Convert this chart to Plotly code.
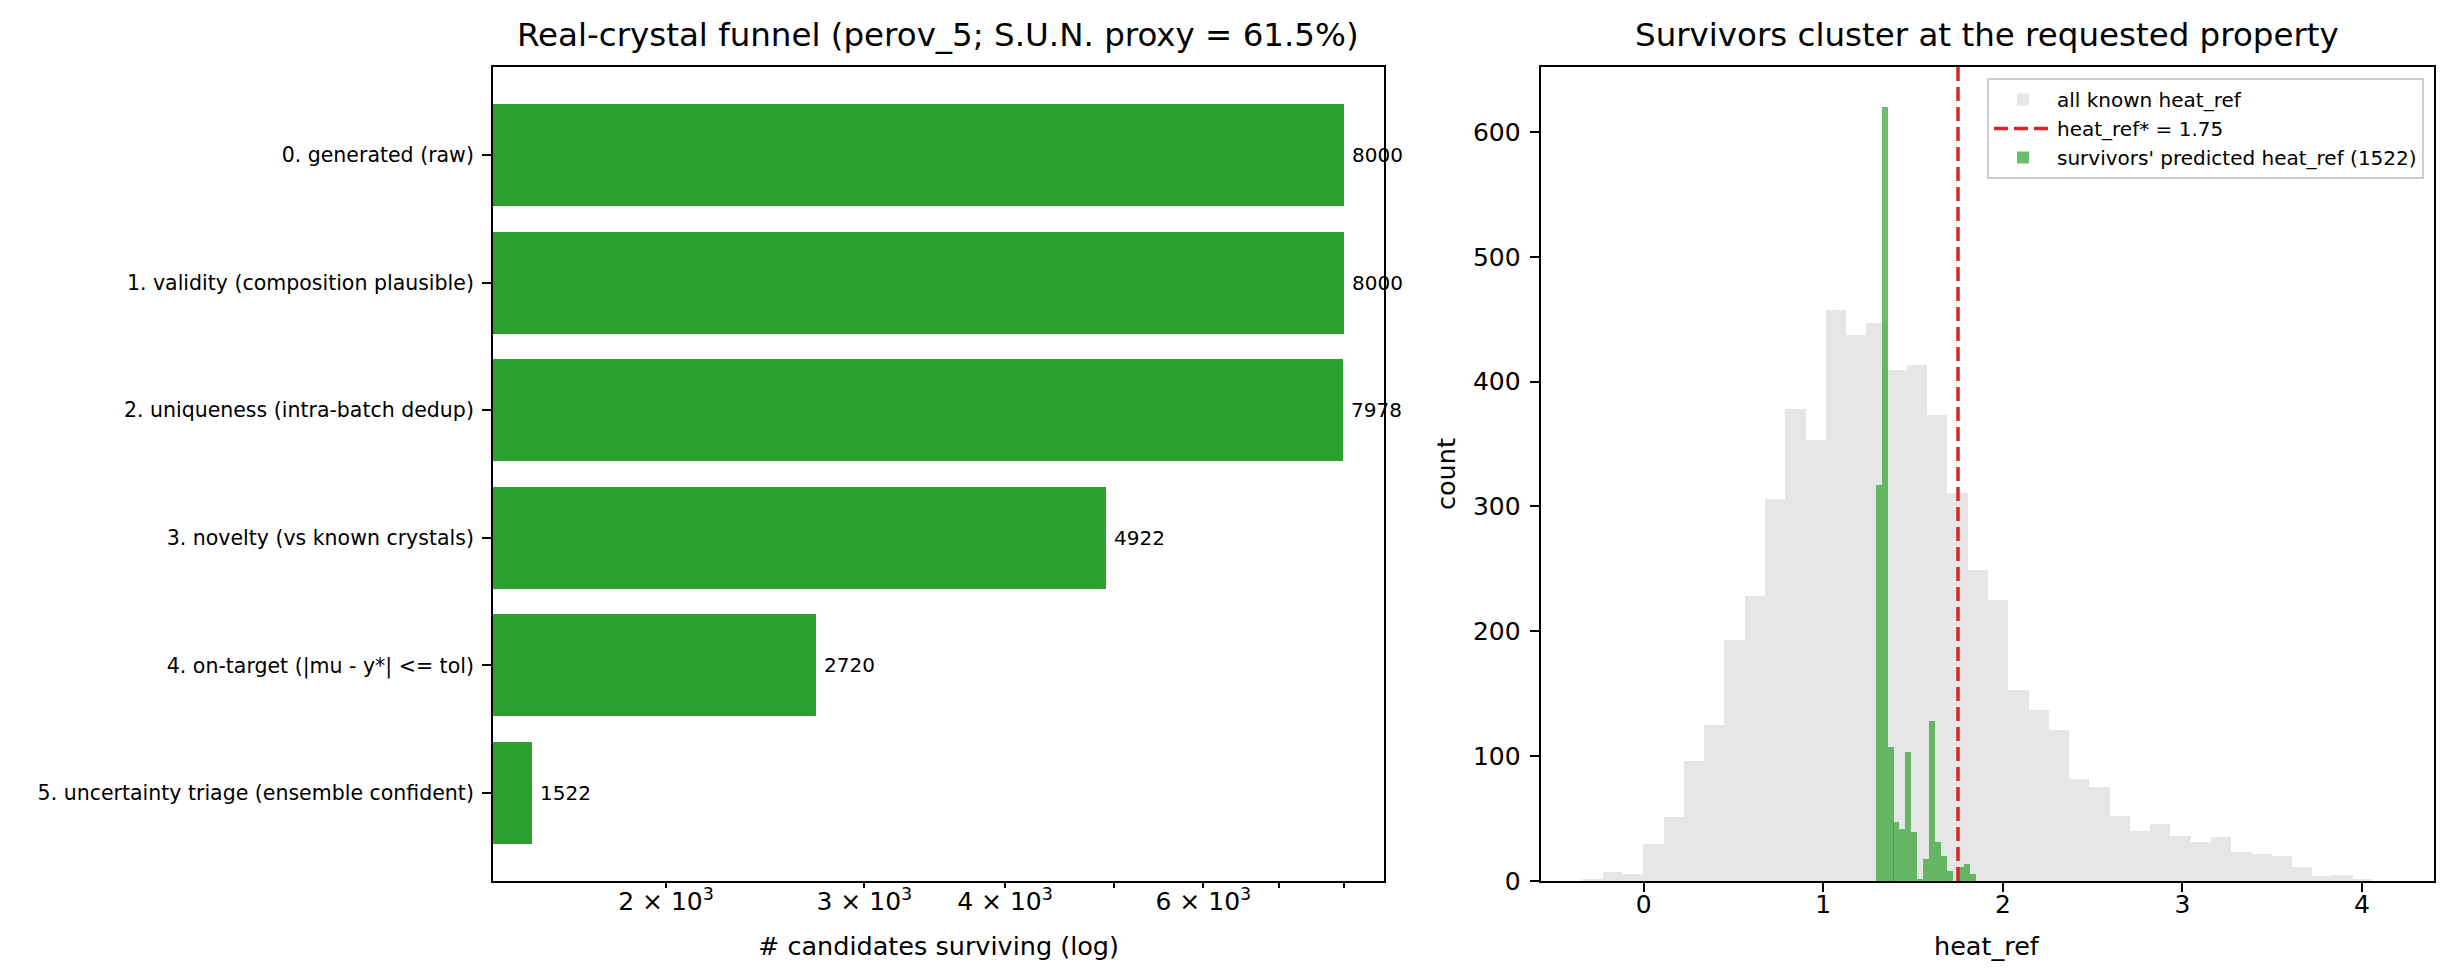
import math
import plotly.graph_objects as go

""" FUNNEL DATA
Stages of the candidate filter and how many candidates survive each one.
"""
stages = [
    "0. generated (raw)",
    "1. validity (composition plausible)",
    "2. uniqueness (intra-batch dedup)",
    "3. novelty (vs known crystals)",
    "4. on-target (|mu - y*| <= tol)",
    "5. uncertainty triage (ensemble confident)",
]
surviving = [8000, 8000, 7978, 4922, 2720, 1522]

funnel_tickvals = [2000, 3000, 4000, 6000]
funnel_ticktext = ["2 × 10<sup>3</sup>", "3 × 10<sup>3</sup>", "4 × 10<sup>3</sup>", "6 × 10<sup>3</sup>"]
funnel_minor = [5000, 7000, 8000]

""" HISTOGRAM DATA
Counts read per bin (left edge of each bin + common bin width).
"""
known_left = [-0.343, -0.230, -0.117, -0.004, 0.109, 0.222, 0.334, 0.447, 0.560, 0.673,
              0.786, 0.899, 1.012, 1.125, 1.238, 1.350, 1.463, 1.576, 1.689, 1.802,
              1.915, 2.028, 2.141, 2.254, 2.366, 2.479, 2.592, 2.705, 2.818, 2.931,
              3.044, 3.157, 3.270, 3.382, 3.495, 3.608, 3.721, 3.834, 3.947]
known_width = 0.1135
known_counts = [2, 7, 6, 30, 51, 96, 125, 193, 228, 306,
                378, 353, 457, 437, 447, 409, 413, 373, 311, 249,
                225, 153, 137, 121, 82, 75, 52, 40, 46, 36,
                31, 35, 23, 22, 20, 11, 4, 5, 2]

surv_left = [1.291, 1.324, 1.357, 1.389, 1.422, 1.455, 1.488, 1.521, 1.554, 1.586,
             1.619, 1.652, 1.685, 1.718, 1.750, 1.783, 1.816]
surv_width = 0.0328
surv_counts = [317, 620, 107, 47, 42, 103, 39, 2, 18, 128, 31, 20, 8, 0, 11, 14, 6]

target = 1.75
n_survivors = 1522

hist_xticks = [0, 1, 2, 3, 4]
hist_yticks = [0, 100, 200, 300, 400, 500, 600]

# figure geometry (pixels of the 2444x977 page)
W, H = 2444, 977
FONT = "DejaVu Sans"
GREEN = "#2ca02c"

left_dom = [485 / W, 1375.7 / W]
right_dom = [1532.7 / W, 2426 / W]
y_dom = [1 - 873 / H, 1 - 59 / H]
hist_ymax = 652

fig = go.Figure()

# left: funnel bars on a log axis
fig.add_trace(go.Bar(
    x=surviving, y=stages, orientation="h", width=0.8,
    marker=dict(color=GREEN, line=dict(width=0)),
    xaxis="x", yaxis="y", showlegend=False,
))

# right: histograms + target line
fig.add_trace(go.Bar(
    x=known_left, y=known_counts, width=known_width, offset=0,
    marker=dict(color="#e6e6e6", line=dict(width=0)),
    name="all known heat_ref", xaxis="x2", yaxis="y2",
))
fig.add_trace(go.Scatter(
    x=[target, target], y=[0, hist_ymax], mode="lines",
    line=dict(color="#d62728", width=3.5, dash="14px,6px"),
    name=f"heat_ref* = {target}", xaxis="x2", yaxis="y2",
))
fig.add_trace(go.Bar(
    x=surv_left, y=surv_counts, width=surv_width, offset=0,
    marker=dict(color="rgba(44,160,44,0.7)", line=dict(width=0)),
    name=f"survivors' predicted heat_ref ({n_survivors})", xaxis="x2", yaxis="y2",
))

annotations = []
for stage, v in zip(stages, surviving):
    annotations.append(dict(
        x=math.log10(v), y=stage, xref="x", yref="y", text=str(v),
        showarrow=False, xanchor="left", xshift=6, yanchor="middle",
        font=dict(size=20, color="black", family=FONT),
    ))

annotations += [
    dict(x=sum(left_dom) / 2, y=1 - 27 / H, xref="paper", yref="paper",
         text="Real-crystal funnel (perov_5; S.U.N. proxy = 61.5%)", showarrow=False,
         xanchor="center", yanchor="middle", font=dict(size=32.5, color="black", family=FONT)),
    dict(x=sum(right_dom) / 2, y=1 - 27 / H, xref="paper", yref="paper",
         text="Survivors cluster at the requested property", showarrow=False,
         xanchor="center", yanchor="middle", font=dict(size=32.5, color="black", family=FONT)),
    dict(x=sum(left_dom) / 2, y=1 - 938 / H, xref="paper", yref="paper",
         text="# candidates surviving (log)", showarrow=False,
         xanchor="center", yanchor="middle", font=dict(size=25.5, color="black", family=FONT)),
    dict(x=sum(right_dom) / 2, y=1 - 938 / H, xref="paper", yref="paper",
         text="heat_ref", showarrow=False,
         xanchor="center", yanchor="middle", font=dict(size=25.5, color="black", family=FONT)),
    dict(x=1438 / W, y=sum(y_dom) / 2, xref="paper", yref="paper",
         text="count", showarrow=False, textangle=-90,
         xanchor="center", yanchor="middle", font=dict(size=25.5, color="black", family=FONT)),
]

axis_common = dict(showline=True, linecolor="black", linewidth=2, mirror=True,
                   ticks="outside", tickcolor="black", tickwidth=2,
                   showgrid=False, zeroline=False, automargin=False)

fig.update_layout(
    width=W, height=H,
    margin=dict(l=0, r=0, t=0, b=0),
    paper_bgcolor="white", plot_bgcolor="white",
    font=dict(family=FONT, color="black"),
    barmode="overlay", bargap=0,
    xaxis=dict(domain=left_dom, anchor="y", type="log",
               range=[3.1474, 3.9383],
               tickmode="array", tickvals=funnel_tickvals, ticktext=funnel_ticktext, ticklen=5,
               minor=dict(tickmode="array", tickvals=funnel_minor, ticks="outside",
                          ticklen=5, tickwidth=2, tickcolor="black", showgrid=False),
               tickfont=dict(size=25), ticklabelstandoff=-8, **axis_common),
    yaxis=dict(domain=y_dom, anchor="x", type="category",
               range=[5.69, -0.69], ticklen=9,
               tickfont=dict(size=20.5), ticklabelstandoff=4, **axis_common),
    xaxis2=dict(domain=right_dom, anchor="y2", range=[-0.574, 4.401],
                tickmode="array", tickvals=hist_xticks, ticklen=9,
                tickfont=dict(size=25), ticklabelstandoff=-9, **axis_common),
    yaxis2=dict(domain=y_dom, anchor="x2", range=[0, hist_ymax],
                tickmode="array", tickvals=hist_yticks, ticklen=9,
                tickfont=dict(size=25), ticklabelstandoff=4, **axis_common),
    legend=dict(x=2416 / W, y=1 - 70 / H, xanchor="right", yanchor="top",
                bgcolor="rgba(255,255,255,0.8)", bordercolor="#cccccc", borderwidth=2,
                font=dict(size=20, color="black", family=FONT),
                traceorder="normal", itemwidth=58),
    annotations=annotations,
)

fig.write_html("out.html")
